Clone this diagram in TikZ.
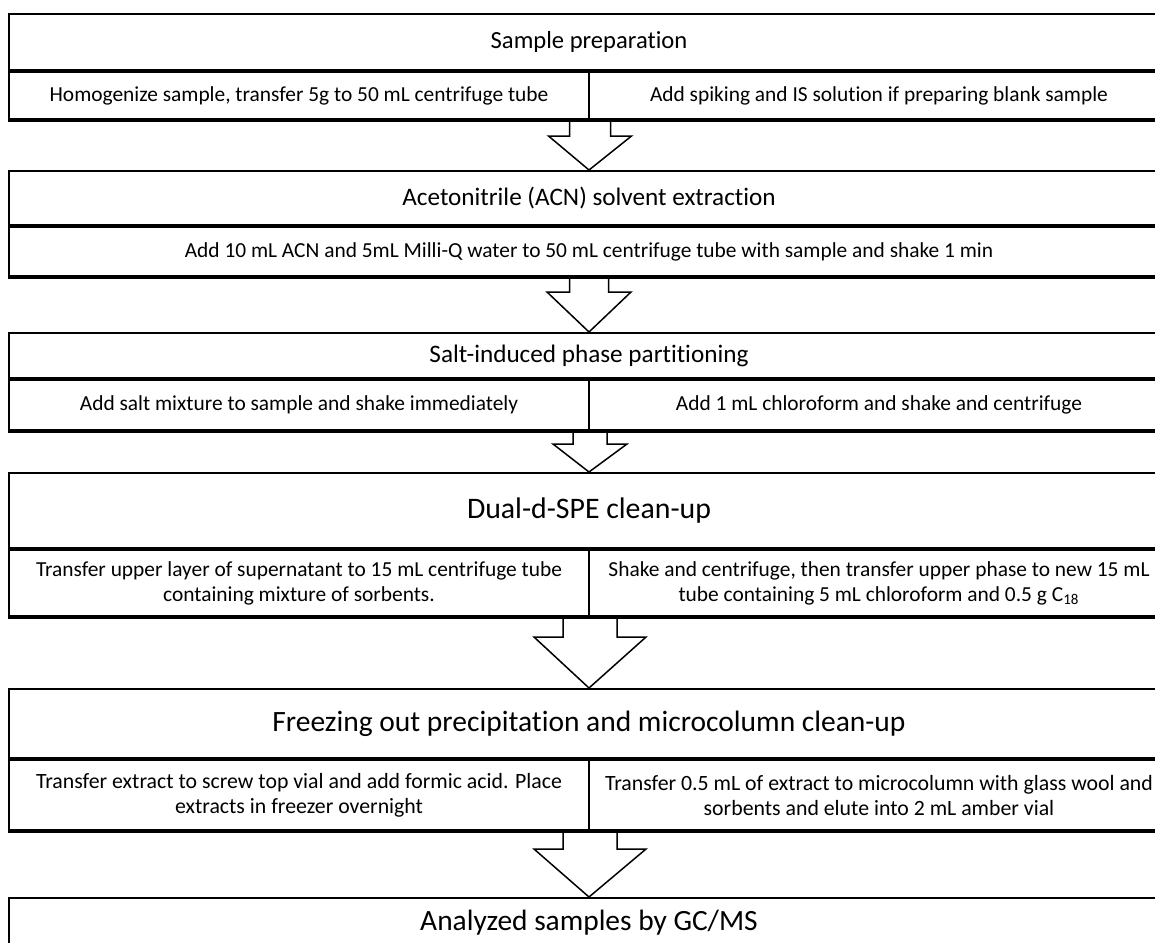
\documentclass[tikz,border=0pt]{standalone}
\usepackage{fontspec}
\setmainfont{Carlito}[RawFeature={-liga}]
\usepackage{tikz}
\usetikzlibrary{positioning, calc}
\usepackage{xcolor}
\definecolor{flujoLinea}{HTML}{000000}

\begin{document}
\begin{tikzpicture}[x=0.5pt, y=-0.5pt,
    cabecera/.style={draw=flujoLinea, line width=1pt, minimum width=580pt,
      inner sep=0pt, anchor=north},
    celda/.style={draw=flujoLinea, line width=1pt, inner sep=0pt, align=center,
      font=\fontsize{10.7}{12.5}\selectfont},
    base/.style={draw=flujoLinea, line width=1.6pt},
    flecha/.style={draw=flujoLinea, line width=0.75pt, line join=miter}]
  \useasboundingbox (0,0) rectangle (1155,942);
  \clip (0,0) rectangle (1155,942);
  % Cabeceras de cada etapa (n/y superior/alto en pt/cuerpo/texto)
  \foreach \n/\y/\alto/\tam/\texto in {1/13/28/12.3/{Sample preparation},
                                       2/170/27/12.6/{Acetonitrile (ACN) solvent extraction},
                                       3/332/22.5/12.6/{Salt-induced phase partitioning},
                                       4/472/37.5/14.9/{Dual-d-SPE clean-up},
                                       5/688/34.5/14.75/{Freezing out precipitation and microcolumn clean-up},
                                       6/897/25/14.7/{Analyzed samples by GC/MS}} {
    \node[cabecera, minimum height=\alto pt, font=\fontsize{\tam}{16}\selectfont] (h\n) at (589,\y) {\texto};
  }
  % Etapa 1
  \node[celda, minimum width=290pt, minimum height=23.5pt, anchor=north west] (d1a) at (h1.south west)
    {Homogenize sample, transfer 5g to 50 mL centrifuge tube};
  \node[celda, minimum width=290pt, minimum height=23.5pt, anchor=north east] (d1b) at (h1.south east)
    {Add spiking and IS solution if preparing blank sample};
  % Etapa 2
  \node[celda, minimum width=580pt, minimum height=24.5pt, anchor=north] (d2) at (h2.south)
    {Add 10 mL ACN and 5mL Milli-Q water to 50 mL centrifuge tube with sample and shake 1 min};
  % Etapa 3
  \node[celda, minimum width=290pt, minimum height=25pt, anchor=north west] (d3a) at (h3.south west)
    {Add salt mixture to sample and shake immediately};
  \node[celda, minimum width=290pt, minimum height=25pt, anchor=north east] (d3b) at (h3.south east)
    {Add 1 mL chloroform and shake and centrifuge};
  % Etapa 4
  \node[celda, minimum width=290pt, minimum height=33pt, anchor=north west] (d4a) at (h4.south west)
    {Transfer upper layer of supernatant to 15 mL centrifuge tube\\containing mixture of sorbents.};
  \node[celda, minimum width=290pt, minimum height=33pt, anchor=north east] (d4b) at (h4.south east)
    {Shake and centrifuge, then transfer upper phase to new 15 mL\\tube containing 5 mL chloroform and 0.5 g C\textsubscript{18}};
  % Etapa 5
  \node[celda, minimum width=290pt, minimum height=35pt, anchor=north west, font=\fontsize{10.9}{12.5}\selectfont] (d5a) at (h5.south west)
    {Transfer extract to screw top vial and add formic acid. Place\\extracts in freezer overnight};
  \node[celda, minimum width=290pt, minimum height=35pt, anchor=north east, font=\fontsize{10.9}{12.5}\selectfont] (d5b) at (h5.south east)
    {Transfer 0.5 mL of extract to microcolumn with glass wool and\\sorbents and elute into 2 mL amber vial};
  % Bordes inferiores mas gruesos
  \foreach \i/\d in {d1a/d1b, d2/d2, d3a/d3b, d4a/d4b, d5a/d5b} {
    \draw[base] (\i.south west) -- (\d.south east);
  }
  % Flechas de bloque (desde/hasta/cuello/medio ancho/medio ancho punta)
  \foreach \desde/\hasta/\cu/\w/\W in {d1a.south east/h2.north/16/20.5/41.5,
                                       d2.south/h3.north/15/19.5/42,
                                       d3a.south east/h4.north/13/17/37,
                                       d4a.south east/h5.north/20/27/56,
                                       d5a.south east/h6.north/18/27/56} {
    \draw[flecha] ($(\desde)+(-\w,0)$) -- ($(\desde)+(-\w,\cu)$) -- ($(\desde)+(-\W,\cu)$)
      -- (\hasta) -- ($(\desde)+(\W,\cu)$) -- ($(\desde)+(\w,\cu)$) -- ($(\desde)+(\w,0)$);
  }
\end{tikzpicture}
\end{document}
